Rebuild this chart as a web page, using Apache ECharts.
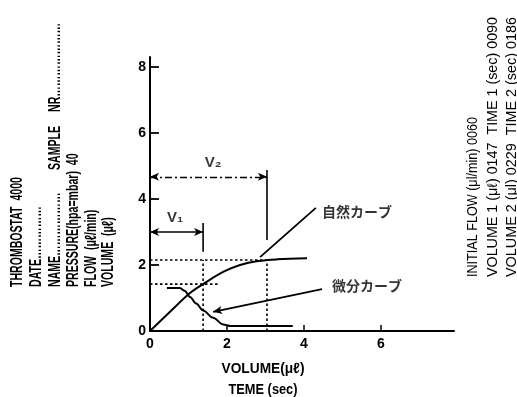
<!DOCTYPE html>
<html><head><meta charset="utf-8">
<script src="https://cdn.jsdelivr.net/npm/echarts@6/dist/echarts.min.js"></script>
<style>html,body{margin:0;padding:0;background:#fff}#c{width:517px;height:397px}</style>
</head><body><div id="c"></div>
<script>
// ---- data ----
const xTickLabels = [0, 2, 4, 6];
const xTicks = [2, 4, 6];
const yTickLabels = [0, 2, 4, 6, 8];
const yTicks = [2, 4, 6, 8];
const naturalCurve = [[0,0],[0.5,0.56],[1.04,1.15],[1.38,1.42],[1.9,1.79],[2.34,2.0],[2.81,2.12],[3.3,2.17],[4.08,2.2]];
const diffCurve = [[0.44,1.3],[0.78,1.3],[0.9,1.22],[1.04,1.03],[1.2,0.83],[1.38,0.62],[1.64,0.4],[1.9,0.2],[2.1,0.15],[3.71,0.15]];
const volumeMarks = [1.38, 3.04];      // V1, V2 volume positions
const guideLevels = [1.42, 2.15];      // dotted horizontal levels
const guideEnds = [1.82, 3.04];        // dotted horizontal end x
const bracketArrowY = [3.0, 4.67];
const bracketTop = [3.27, 4.88];
const bracketBottom = [2.4, 2.76];
const bracketNames = ['V₁', 'V₂'];
const bracketLabelPos = [[0.65, 3.42], [1.64, 5.09]];
const curveNames = ['自然カーブ', '微分カーブ'];
const curveLabelPos = [[4.47, 3.6], [4.73, 1.36]];
const naturalLeader = [[2.86, 2.24], [4.31, 3.73]];
const diffLeader = [[1.64, 0.58], [4.47, 1.27]];
const leftNotes = ['THROMBOSTAT  4000', 'DATE……………', 'NAME………………', 'SAMPLE', 'NR…………………', 'PRESSURE(hpa=mbar)  40', 'FLOW  (μℓ/min)', 'VOLUME  (μℓ)'];
const rightNotes = ['INITIAL FLOW (μl/min) 0060', 'VOLUME 1 (μℓ) 0147  TIME 1 (sec) 0090', 'VOLUME 2 (μl) 0229  TIME 2 (sec) 0186'];
const bottomNotes = ['VOLUME(μℓ)', 'TEME (sec)'];

// ---- layout (pixels) ----
const leftLayout = [[18,287],[37,287],[56,287],[56,170],[56,112],[74,287],[92,287],[109,287]];
const rightLayout = [[473,277,160],[493,277,260],[512,277,260]];
const bottomLayout = [[263,369,83],[263,390,69]];
const FONT = '"Liberation Sans", Arial, sans-serif';

const cv = document.createElement('canvas').getContext('2d');
function fitScale(text, font, len) {
  cv.font = font;
  return len / cv.measureText(text).width;
}
const graphics = [];
leftNotes.forEach((t, i) => {
  const [x, y] = leftLayout[i];
  graphics.push({type:'text', x, y, rotation: Math.PI/2, scaleX: 0.66, scaleY: 1,
    style:{text:t, font:'bold 16px ' + FONT, fill:'#000', align:'left', verticalAlign:'middle'}});
});
rightNotes.forEach((t, i) => {
  const [x, y, len] = rightLayout[i];
  const f = '14px ' + FONT;
  graphics.push({type:'text', x, y, rotation: Math.PI/2, scaleX: fitScale(t, f, len), scaleY: 1,
    style:{text:t, font:f, fill:'#000', align:'left', verticalAlign:'middle'}});
});
bottomNotes.forEach((t, i) => {
  const [x, y, len] = bottomLayout[i];
  const f = 'bold 15px ' + FONT;
  graphics.push({type:'text', x, y, scaleX: fitScale(t, f, len), scaleY: 1,
    style:{text:t, font:f, fill:'#000', align:'center', verticalAlign:'middle'}});
});

const black = '#000';
const curveStyle = {color: black, width: 2};
const dotted = {color: black, width: 1.6, type: [2.5, 2.5]};
function seg(a, b, style) {
  return {type:'line', data:[a, b], symbol:'none', lineStyle: style, silent:true, animation:false, z:3};
}
const series = [
  {type:'line', data: naturalCurve, smooth: 0.35, symbol:'none', lineStyle: curveStyle, silent:true, animation:false},
  {type:'line', data: diffCurve, smooth: 0.35, smoothMonotone:'x', symbol:'none', lineStyle: curveStyle, silent:true, animation:false}
];
volumeMarks.forEach((v, i) => {
  series.push(seg([0, guideLevels[i]], [guideEnds[i], guideLevels[i]], dotted));
  series.push(seg([v, 0], [v, guideLevels[1]], dotted));
  series.push(seg([v, bracketBottom[i]], [v, bracketTop[i]], {color: black, width: 1.6}));
});
series.push(seg(naturalLeader[0], naturalLeader[1], {color: black, width: 1.8}));
series.push({type:'line', data: [], symbol:'none', silent:true, animation:false,
  markLine: {silent:true, animation:false, symbolSize:[6,9], label:{show:false},
    data: [
      [{coord:[0, bracketArrowY[0]], symbol:'arrow', lineStyle:{color:black, width:1.6, type:'solid'}}, {coord:[volumeMarks[0], bracketArrowY[0]], symbol:'arrow'}],
      [{coord:[0, bracketArrowY[1]], symbol:'arrow', lineStyle:{color:black, width:1.4, type:[7,3,2,3]}}, {coord:[volumeMarks[1], bracketArrowY[1]], symbol:'arrow'}],
      [{coord:diffLeader[0], symbol:'arrow', lineStyle:{color:black, width:1.8, type:'solid'}}, {coord:diffLeader[1], symbol:'none'}]
    ]}
});
series.push({type:'scatter', symbolSize:0, silent:true, animation:false,
  data: bracketNames.map((n, i) => ({name:n, value: bracketLabelPos[i]})),
  label:{show:true, position:'inside', formatter:'{b}', color:'#000', fontSize:15, fontWeight:'bold', fontFamily: FONT}});
series.push({type:'scatter', symbolSize:0, silent:true, animation:false,
  data: curveNames.map((n, i) => ({name:n, value: curveLabelPos[i]})),
  label:{show:true, position:'right', distance:0, formatter:'{b}', color:'#000', fontSize:14, fontWeight:'bold', fontFamily:'"Noto Sans CJK JP", sans-serif'}});

const chart = echarts.init(document.getElementById('c'), null, {renderer:'canvas'});
chart.setOption({
  animation: false,
  backgroundColor: '#fff',
  grid: {left:150, right:63, top:57, bottom:66, containLabel:false},
  xAxis: {type:'value', min:0, max:7.9,
    axisLine:{show:true, onZero:false, lineStyle:{color:black, width:2}},
    axisTick:{show:true, inside:true, length:6, customValues: xTicks, lineStyle:{color:black, width:1.5}},
    axisLabel:{customValues: xTickLabels, color:'#000', fontSize:14, fontWeight:'bold', margin:6, fontFamily: FONT},
    splitLine:{show:false}},
  yAxis: {type:'value', min:0, max:8.3,
    axisLine:{show:true, onZero:false, lineStyle:{color:black, width:2}},
    axisTick:{show:true, inside:true, length:9, customValues: yTicks, lineStyle:{color:black, width:1.8}},
    axisLabel:{customValues: yTickLabels, color:'#000', fontSize:14, fontWeight:'bold', margin:4, fontFamily: FONT},
    splitLine:{show:false}},
  graphic: graphics,
  series: series
});
</script></body></html>
